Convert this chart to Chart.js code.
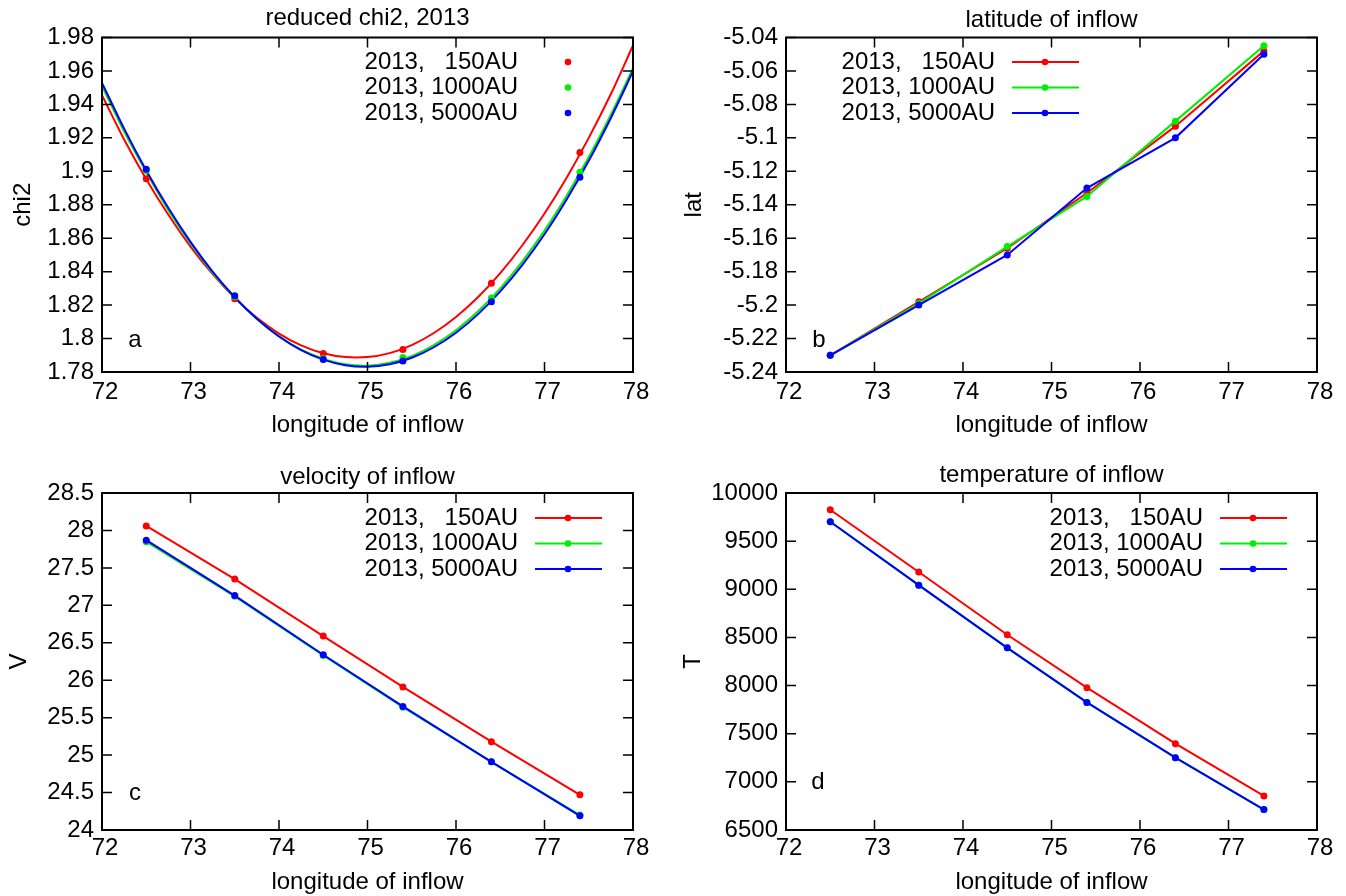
<!DOCTYPE html>
<html>
<head>
<meta charset="utf-8">
<title>inflow fits 2013</title>
<script src="https://cdn.jsdelivr.net/npm/chart.js@4.4.1/dist/chart.umd.min.js"></script>
<style>
  html, body { margin: 0; padding: 0; background: #fff; overflow: hidden; }
  #wrap { position: relative; width: 1346px; height: 896px; }
  canvas { position: absolute; }
</style>
</head>
<body>
<div id="wrap">
  <canvas id="chiChart" width="673" height="448" style="left:0;top:0"></canvas>
  <canvas id="latChart" width="673" height="448" style="left:673px;top:0"></canvas>
  <canvas id="velChart" width="673" height="448" style="left:0;top:448px"></canvas>
  <canvas id="tempChart" width="673" height="448" style="left:673px;top:448px"></canvas>
</div>
<script>
// data
const seriesLabels = ['2013,   150AU', '2013, 1000AU', '2013, 5000AU'];
const seriesColors = ['#ff0000', '#00ee00', '#0000ff'];

const lonPoints = [72.5, 73.5, 74.5, 75.4, 76.4, 77.4];

// reduced chi2 (points) and the fitted curves
const chi150 = [1.8956, 1.8238, 1.7911, 1.7935, 1.8331, 1.9113];
const chi1000 = [1.9005, 1.8250, 1.7880, 1.7886, 1.8242, 1.8994];
const chi5000 = [1.9012, 1.8256, 1.7874, 1.7866, 1.8220, 1.8964];
const fitLon = [72, 72.25, 72.5, 72.75, 73, 73.25, 73.5, 73.75, 74, 74.25, 74.5, 74.75, 75,
                75.25, 75.5, 75.75, 76, 76.25, 76.5, 76.75, 77, 77.25, 77.5, 77.75, 78];
const fit150 = [1.9455, 1.9190, 1.8953, 1.8740, 1.8550, 1.8385, 1.8243, 1.8124, 1.8030, 1.7959, 1.7912, 1.7889, 1.7889,
                1.7913, 1.7961, 1.8033, 1.8129, 1.8248, 1.8391, 1.8558, 1.8748, 1.8962, 1.9200, 1.9462, 1.9752];
const fit1000 = [1.9510, 1.9238, 1.8995, 1.8768, 1.8570, 1.8393, 1.8245, 1.8117, 1.8013, 1.7934, 1.7880, 1.7846, 1.7838,
                 1.7855, 1.7895, 1.7961, 1.8050, 1.8163, 1.8300, 1.8461, 1.8645, 1.8854, 1.9085, 1.9339, 1.9615];
const fit5000 = [1.9529, 1.9255, 1.9005, 1.8780, 1.8578, 1.8400, 1.8247, 1.8118, 1.8012, 1.7931, 1.7874, 1.7840, 1.7831,
                 1.7846, 1.7885, 1.7948, 1.8035, 1.8146, 1.8282, 1.8441, 1.8624, 1.8832, 1.9063, 1.9319, 1.9598];

// latitude of inflow
const lat150 = [-5.230, -5.198, -5.166, -5.133, -5.093, -5.048];
const lat1000 = [-5.230, -5.199, -5.165, -5.135, -5.090, -5.045];
const lat5000 = [-5.230, -5.200, -5.170, -5.130, -5.100, -5.050];

// velocity of inflow
const vel150 = [28.06, 27.35, 26.59, 25.91, 25.18, 24.47];
const vel1000 = [27.85, 27.12, 26.33, 25.64, 24.91, 24.20];
const vel5000 = [27.87, 27.13, 26.34, 25.65, 24.91, 24.19];

// temperature of inflow
const temp150 = [9826, 9179, 8528, 7978, 7397, 6854];
const temp1000 = [9701, 9043, 8392, 7825, 7251, 6712];
const temp5000 = [9701, 9043, 8392, 7825, 7251, 6712];

// axis ticks
const lonTicks = [72, 73, 74, 75, 76, 77, 78];
const lonTickLabels = ['72', '73', '74', '75', '76', '77', '78'];
const chiTicks = [1.78, 1.80, 1.82, 1.84, 1.86, 1.88, 1.90, 1.92, 1.94, 1.96, 1.98];
const chiTickLabels = ['1.78', '1.8', '1.82', '1.84', '1.86', '1.88', '1.9', '1.92', '1.94', '1.96', '1.98'];
const latTicks = [-5.24, -5.22, -5.20, -5.18, -5.16, -5.14, -5.12, -5.10, -5.08, -5.06, -5.04];
const latTickLabels = ['-5.24', '-5.22', '-5.2', '-5.18', '-5.16', '-5.14', '-5.12', '-5.1', '-5.08', '-5.06', '-5.04'];
const velTicks = [24, 24.5, 25, 25.5, 26, 26.5, 27, 27.5, 28, 28.5];
const velTickLabels = ['24', '24.5', '25', '25.5', '26', '26.5', '27', '27.5', '28', '28.5'];
const tempTicks = [6500, 7000, 7500, 8000, 8500, 9000, 9500, 10000];
const tempTickLabels = ['6500', '7000', '7500', '8000', '8500', '9000', '9500', '10000'];

const FONT = '"Liberation Sans", Arial, Helvetica, sans-serif';
Chart.defaults.font.family = FONT;
Chart.defaults.font.size = 24;
Chart.defaults.color = '#000';

function toXY(xs, ys) {
    return xs.map((x, i) => ({ x: x, y: ys[i] }));
}

// frame with inward ticks, title, panel letter and in-plot legend (gnuplot style)
const panelPlugin = {
    id: 'panel',
    afterDraw(chart, args, opts) {
        const { ctx, chartArea: a, scales } = chart;
        ctx.save();
        ctx.strokeStyle = '#000';
        ctx.lineWidth = 1.5;
        ctx.beginPath();
        scales.x.ticks.forEach(t => {
            const px = scales.x.getPixelForValue(t.value);
            ctx.moveTo(px, a.bottom); ctx.lineTo(px, a.bottom - 10);
            ctx.moveTo(px, a.top); ctx.lineTo(px, a.top + 10);
        });
        scales.y.ticks.forEach(t => {
            const py = scales.y.getPixelForValue(t.value);
            ctx.moveTo(a.left, py); ctx.lineTo(a.left + 10, py);
            ctx.moveTo(a.right, py); ctx.lineTo(a.right - 10, py);
        });
        ctx.stroke();
        ctx.lineWidth = 2;
        ctx.strokeRect(a.left, a.top, a.right - a.left, a.bottom - a.top);

        ctx.fillStyle = '#000';
        ctx.font = '24px ' + FONT;
        ctx.textBaseline = 'middle';
        ctx.textAlign = 'center';
        ctx.fillText(opts.title, (a.left + a.right) / 2, opts.titleY);
        ctx.fillText(opts.tag, opts.tagX, opts.tagY);

        // legend
        const items = chart.data.datasets.filter(d => d.label);
        items.forEach((d, i) => {
            const y = opts.legY + i * opts.legStep;
            ctx.fillStyle = '#000';
            ctx.textAlign = 'right';
            ctx.fillText(d.label, opts.legX, y);
            if (opts.legLine) {
                ctx.strokeStyle = d.borderColor;
                ctx.lineWidth = 2;
                ctx.beginPath();
                ctx.moveTo(opts.legX + 17, y);
                ctx.lineTo(opts.legX + 84, y);
                ctx.stroke();
            }
            ctx.fillStyle = d.pointBackgroundColor;
            ctx.beginPath();
            ctx.arc(opts.legX + 50, y, 3.3, 0, Math.PI * 2);
            ctx.fill();
        });
        ctx.restore();
    }
};

function lineSets(a, b, c) {
    return [a, b, c].map((ys, i) => ({
        label: seriesLabels[i],
        data: toXY(lonPoints, ys),
        showLine: true,
        borderColor: seriesColors[i],
        borderWidth: 2,
        pointBackgroundColor: seriesColors[i],
        pointBorderWidth: 0,
        pointRadius: 3.5,
        tension: 0,
        order: 3 - i
    }));
}

function drawPanel(canvasId, p) {
    const ctx = document.getElementById(canvasId).getContext('2d');
    return new Chart(ctx, {
        type: 'scatter',
        data: { datasets: p.datasets },
        options: {
            responsive: false,
            animation: false,
            events: [],
            layout: { padding: { left: 0, top: p.top, right: p.right, bottom: 0 } },
            plugins: {
                legend: { display: false },
                tooltip: { enabled: false },
                title: { display: false },
                panel: p.panel
            },
            scales: {
                x: {
                    type: 'linear',
                    min: 72, max: 78,
                    grid: { display: false, drawTicks: false },
                    border: { display: false },
                    afterBuildTicks: s => { s.ticks = lonTicks.map(v => ({ value: v })); },
                    afterFit: s => { s.height = p.xHeight; },
                    ticks: {
                        autoSkip: false, maxRotation: 0, padding: p.xTickPad, labelOffset: 3,
                        callback: (v, i) => lonTickLabels[i]
                    },
                    title: { display: true, text: 'longitude of inflow', padding: { top: 0, bottom: p.xTitlePad } }
                },
                y: {
                    type: 'linear',
                    min: p.yTicks[0], max: p.yTicks[p.yTicks.length - 1],
                    grid: { display: false, drawTicks: false },
                    border: { display: false },
                    afterBuildTicks: s => { s.ticks = p.yTicks.map(v => ({ value: v })); },
                    afterFit: s => { s.width = p.yWidth; },
                    ticks: {
                        autoSkip: false, padding: 8,
                        callback: (v, i) => p.yLabels[i]
                    },
                    title: { display: true, text: p.yTitle, padding: { top: p.yTitlePad, bottom: 0 } }
                }
            }
        },
        plugins: [panelPlugin]
    });
}

// panel a: points plus fitted parabolas
const chiSets = [fit150, fit1000, fit5000].map((ys, i) => ({
    data: toXY(fitLon, ys),
    showLine: true,
    borderColor: seriesColors[i],
    borderWidth: 2,
    pointRadius: 0,
    tension: 0.3,
    order: 6 - i
})).concat([chi150, chi1000, chi5000].map((ys, i) => ({
    label: seriesLabels[i],
    data: toXY(lonPoints, ys),
    borderColor: seriesColors[i],
    pointBackgroundColor: seriesColors[i],
    pointBorderWidth: 0,
    pointRadius: 3.5,
    order: 3 - i
})));

drawPanel('chiChart', {
    datasets: chiSets,
    yTicks: chiTicks, yLabels: chiTickLabels, yTitle: 'chi2', yTitlePad: 8.6,
    top: 37.5, right: 40, yWidth: 102, xHeight: 76, xTickPad: 5.6, xTitlePad: 8.6,
    panel: { title: 'reduced chi2, 2013', titleY: 18, tag: 'a', tagX: 135, tagY: 340,
             legX: 518, legY: 62, legStep: 25.5, legLine: false }
});

drawPanel('latChart', {
    datasets: lineSets(lat150, lat1000, lat5000),
    yTicks: latTicks, yLabels: latTickLabels, yTitle: 'lat', yTitlePad: 6.6,
    top: 37.5, right: 29, yWidth: 113, xHeight: 76, xTickPad: 5.6, xTitlePad: 8.6,
    panel: { title: 'latitude of inflow', titleY: 20, tag: 'b', tagX: 146, tagY: 340,
             legX: 322, legY: 62, legStep: 25.5, legLine: true }
});

drawPanel('velChart', {
    datasets: lineSets(vel150, vel1000, vel5000),
    yTicks: velTicks, yLabels: velTickLabels, yTitle: 'V', yTitlePad: 4.6,
    top: 45, right: 40, yWidth: 102, xHeight: 66, xTickPad: 3.6, xTitlePad: -1,
    panel: { title: 'velocity of inflow', titleY: 29, tag: 'c', tagX: 135, tagY: 345,
             legX: 518, legY: 70, legStep: 25.5, legLine: true }
});

drawPanel('tempChart', {
    datasets: lineSets(temp150, temp1000, temp5000),
    yTicks: tempTicks, yLabels: tempTickLabels, yTitle: 'T', yTitlePad: 5.6,
    top: 45, right: 29, yWidth: 113, xHeight: 66, xTickPad: 3.6, xTitlePad: -1,
    panel: { title: 'temperature of inflow', titleY: 27, tag: 'd', tagX: 145, tagY: 334,
             legX: 530, legY: 70, legStep: 25.5, legLine: true }
});
</script>
</body>
</html>
